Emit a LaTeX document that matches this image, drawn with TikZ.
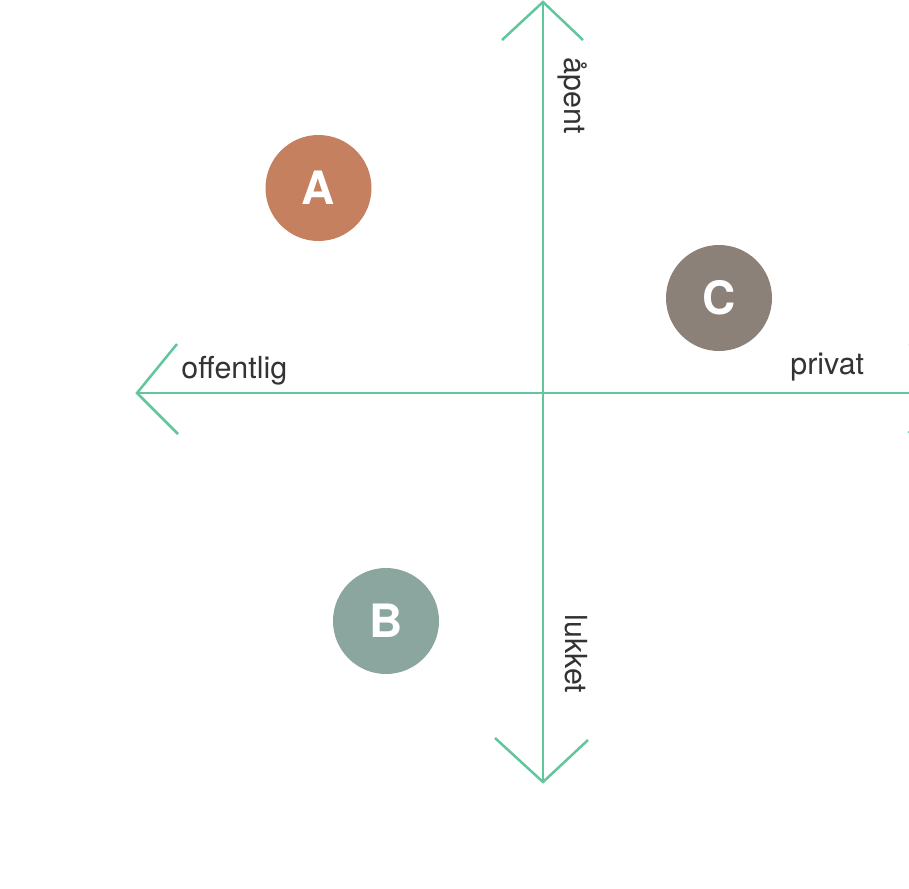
\documentclass[tikz,border=0pt]{standalone}
\usepackage{fontspec}
\setmainfont{TeX Gyre Heros}
\definecolor{axisgreen}{HTML}{62C69C}
\definecolor{txtgray}{HTML}{333333}
\definecolor{cA}{HTML}{C4805F}
\definecolor{cB}{HTML}{8BA59F}
\definecolor{cC}{HTML}{8B8178}
\begin{document}
\begin{tikzpicture}[x=0.5pt,y=-0.5pt,
  axis/.style={draw=axisgreen,line width=1.1pt},
  arm/.style={draw=axisgreen,line width=1.25pt},
  lbl/.style={text=txtgray,font=\fontsize{15.2}{18}\selectfont,inner sep=0pt},
  dot/.style={circle,minimum size=53pt,inner sep=0pt,text=white,font=\fontsize{23}{26}\bfseries\selectfont}]
\useasboundingbox (0,0) rectangle (909,888);
\clip (0,0) rectangle (909,888);
\coordinate (top) at (543,2);
\coordinate (bot) at (543,782);
\coordinate (left) at (137,393);
\coordinate (right) at (949,393);
\draw[axis,line width=0.8pt] (top) -- (bot);
\draw[axis] (left) -- (right);
\draw[arm] (502,40) -- (top) -- (583,40);
\draw[arm] (495,738) -- (bot) -- (588,740);
\draw[arm] (177,344) -- (left) -- (178,434);
\draw[arm] (909.5,344) -- (right) -- (908.5,433);
\node[lbl,anchor=base west] (off) at (181,378) {offentlig};
\node[lbl,anchor=base west] (priv) at (790,374) {privat};
\node[lbl,rotate=-90] (apent) at (573,96) {åpent};
\node[lbl,rotate=-90] (lukket) at (576,654) {lukket};
\node[dot,fill=cA] (A) at (318.5,188) {A};
\node[dot,fill=cC] (C) at (719,298) {C};
\node[dot,fill=cB] (B) at (386,621) {B};
\end{tikzpicture}
\end{document}
